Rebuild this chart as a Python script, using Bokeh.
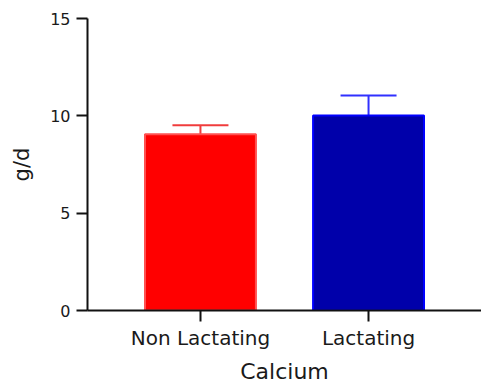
from bokeh.plotting import figure
from bokeh.models import ColumnDataSource, FactorRange, FixedTicker, Whisker, TeeHead
from bokeh.embed import file_html
from bokeh.resources import INLINE

categories = ["Non Lactating", "Lactating"]
means = [9.05, 10.02]
upper = [9.52, 11.05]
fill_colors = ["#FF0000", "#0000AA"]
edge_colors = ["#FF5050", "#0000FF"]
err_colors = ["#F03C3C", "#3030FF"]
y_ticks = [0, 5, 10, 15]

FONT = "DejaVu Sans"

src = ColumnDataSource(dict(cat=categories, mean=means, fill=fill_colors, edge=edge_colors))

p = figure(
    x_range=FactorRange(*categories, range_padding=0.172, range_padding_units="absolute"),
    y_range=(0, 15),
    width=481, height=386,
    output_backend="svg", toolbar_location=None,
    min_border_left=87, min_border_right=0, min_border_top=18, min_border_bottom=74,
)
p.outline_line_color = None
p.xgrid.grid_line_color = None
p.ygrid.grid_line_color = None

p.vbar(x="cat", top="mean", bottom=0, width=0.66, source=src,
       fill_color="fill", line_color="edge", line_width=2)

for c, m, u, col in zip(categories, means, upper, err_colors):
    s = ColumnDataSource(dict(base=[c], lower=[m], upper=[u]))
    w = Whisker(source=s, base="base", lower="lower", upper="upper",
                line_color=col, line_width=2,
                upper_head=TeeHead(size=56, line_color=col, line_width=2),
                lower_head=None)
    p.add_layout(w)

p.yaxis.ticker = FixedTicker(ticks=y_ticks)
p.yaxis.minor_tick_line_color = None
for ax in (p.xaxis[0], p.yaxis[0]):
    ax.axis_line_width = 2
    ax.axis_line_color = "#111111"
    ax.major_tick_line_width = 2
    ax.major_tick_line_color = "#111111"
    ax.major_tick_out = 11
    ax.major_tick_in = 0
    ax.major_label_text_font = FONT
    ax.major_label_text_font_style = "normal"
    ax.major_label_text_color = "#1a1a1a"
    ax.axis_label_text_font = FONT
    ax.axis_label_text_font_style = "normal"
    ax.axis_label_text_color = "#1a1a1a"

p.yaxis.major_label_text_font_size = "16px"
p.yaxis.major_label_standoff = 6
p.yaxis.axis_label = "g/d"
p.yaxis.axis_label_text_font_size = "21px"
p.yaxis.axis_label_standoff = 13

p.xaxis.major_label_text_font_size = "20px"
p.xaxis.major_label_standoff = 4
p.xaxis.axis_label = "Calcium"
p.xaxis.axis_label_text_font_size = "22px"
p.xaxis.axis_label_standoff = 6

open("out.html", "w").write(file_html(p, INLINE))
